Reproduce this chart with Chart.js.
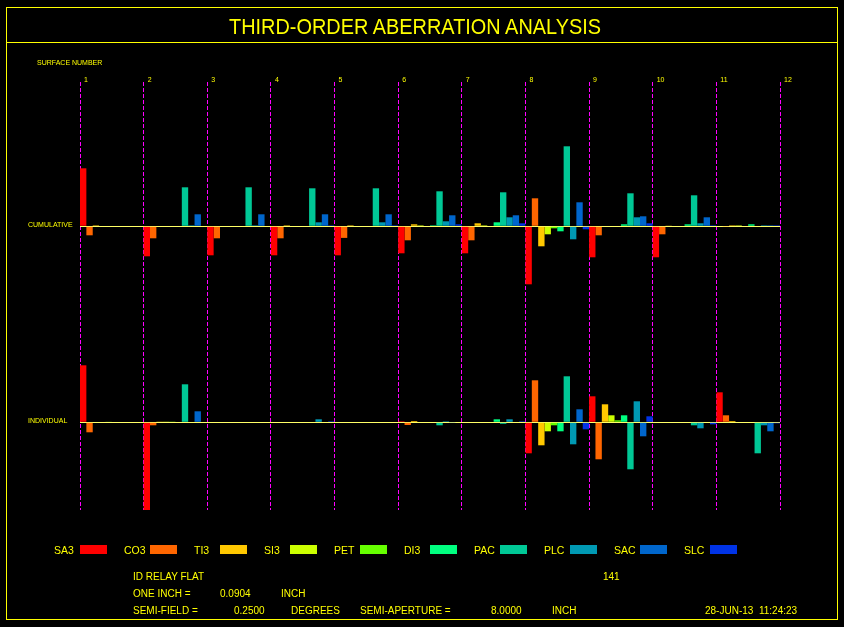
<!DOCTYPE html>
<html><head><meta charset="utf-8">
<script src="https://cdn.jsdelivr.net/npm/chart.js@4.4.0/dist/chart.umd.min.js"></script>
<style>
html,body{margin:0;padding:0;background:#000;}
body{width:844px;height:627px;position:relative;overflow:hidden;font-family:"Liberation Sans",Arial,sans-serif;color:#FFFF00;}
#c{position:absolute;left:0;top:0;}
.t{position:absolute;white-space:nowrap;}
#frame{position:absolute;left:6px;top:7px;width:830px;height:611px;border:1px solid #FFFF00;}
#sep{position:absolute;left:6px;top:42px;width:832px;height:1px;background:#FFFF00;}
#title{left:229px;top:16px;font-size:22px;line-height:22px;transform-origin:0 0;}
.s7{font-size:7px;line-height:7px;}
.f10{font-size:10px;line-height:10px;}
.lg{font-size:10.5px;line-height:10.5px;}
.sw{position:absolute;width:27px;height:9px;}
</style></head><body>
<canvas id="c" width="844" height="627"></canvas>
<div id="frame"></div><div id="sep"></div>
<div id="title" class="t">THIRD-ORDER ABERRATION ANALYSIS</div>
<div class="t s7" style="left:37px;top:59px;">SURFACE NUMBER</div>
<div class="t s7" style="left:28px;top:221px;">CUMULATIVE</div>
<div class="t s7" style="left:28px;top:417px;">INDIVIDUAL</div>
<div id="legend"></div>
<div class="t f10" style="left:133px;top:571.5px;">ID RELAY FLAT</div>
<div class="t f10" style="left:603px;top:571.5px;">141</div>
<div class="t f10" style="left:133px;top:588.5px;">ONE INCH =</div>
<div class="t f10" style="left:220px;top:588.5px;">0.0904</div>
<div class="t f10" style="left:281px;top:588.5px;">INCH</div>
<div class="t f10" style="left:133px;top:605.5px;">SEMI-FIELD =</div>
<div class="t f10" style="left:234px;top:605.5px;">0.2500</div>
<div class="t f10" style="left:291px;top:605.5px;">DEGREES</div>
<div class="t f10" style="left:360px;top:605.5px;">SEMI-APERTURE =</div>
<div class="t f10" style="left:491px;top:605.5px;">8.0000</div>
<div class="t f10" style="left:552px;top:605.5px;">INCH</div>
<div class="t f10" style="left:705px;top:606px;">28-JUN-13&nbsp;&nbsp;11:24:23</div>
<script>
// ---- data ----
const surfaces = ['1','2','3','4','5','6','7','8','9','10','11'];
const surfaceMarks = ['1','2','3','4','5','6','7','8','9','10','11','12'];
const aberrations = ['SA3','CO3','TI3','SI3','PET','DI3','PAC','PLC','SAC','SLC'];
const colors = ['#FF0000','#FF6600','#FFC800','#CCFF00','#66FF00','#00FF80','#00C896','#0099B3','#0066CC','#0033E6'];

// cumulative contributions per surface
const cumSA3 = [58, -30, -29, -29, -29, -27, -27, -58, -31, -31, -0.5];
const cumCO3 = [-9, -12, -12, -12, -11.6, -14, -14, 28, -9, -8, -0.7];
const cumTI3 = [1, 0, 0, 1, 1, 2, 3, -20, 0.5, 0.3, 1];
const cumSI3 = [0, 0, 0, 0, 0, 1, 1, -8, -0.5, 0, 1];
const cumPET = [0, 0, 0, 0, 0, 0, 0, -2, 0, 0, 0.5];
const cumDI3 = [0, 0, 0, 0, 0, 1, 4, -5, 2, 2, 2];
const cumPAC = [0, 39, 39, 38, 38, 35, 34, 80, 33, 31, 0];
const cumPLC = [0, 1, 1, 4, 4, 5, 9, -13, 9, 3, 1];
const cumSAC = [0, 12, 12, 12, 12, 11, 11, 24, 10, 9, 1];
const cumSLC = [0, 0, 0, 1, 1, 2, 3, -3, 3, 1, 1];

// individual contributions per surface
const indSA3 = [57, -88, 0, 0, 0, 1, 0, -31, 26, 0, 30];
const indCO3 = [-10, -3, -0.5, 0, 0, -2.7, 0, 42, -37, 0.5, 7];
const indTI3 = [0, 0.3, 0, 0, 0, 1.3, 0, -23, 18, 0, 1.3];
const indSI3 = [0, 0.3, 0, 0, 0, 0, 0, -9, 7, 0, 0];
const indPET = [0.4, 0.3, 0, 0, 0, 0, 0, -3, 2, 0, 0];
const indDI3 = [0, 0, 0, 0, 0, 0, 3, -9, 7, -0.5, 0];
const indPAC = [0, 38, 0, 0, 0, -3, -1.5, 46, -47, -3, -31];
const indPLC = [0, 0, 0, 3, 0, 1, 3, -22, 21, -6, -3];
const indSAC = [0, 11, 0, 0, 0, -0.7, -0.5, 13, -14, 0, -9];
const indSLC = [0, 0, 0, 1, 0, 0, 1, -7, 6, -2, -1];

const cumSeries = [cumSA3, cumCO3, cumTI3, cumSI3, cumPET, cumDI3, cumPAC, cumPLC, cumSAC, cumSLC];
const indSeries = [indSA3, indCO3, indTI3, indSI3, indPET, indDI3, indPAC, indPLC, indSAC, indSLC];

// ---- legend ----
const lg = document.getElementById('legend');
aberrations.forEach((name, i) => {
  const t = document.createElement('div');
  t.className = 't lg'; t.textContent = name;
  t.style.left = (54 + 70 * i) + 'px'; t.style.top = '545px';
  lg.appendChild(t);
  const s = document.createElement('div');
  s.className = 'sw'; s.style.background = colors[i];
  s.style.left = (80 + 70 * i) + 'px'; s.style.top = '545px';
  lg.appendChild(s);
});

// title width fit
const title = document.getElementById('title');
const tw = title.getBoundingClientRect().width;
title.style.transform = 'scaleX(' + (372 / tw) + ')';

// ---- chart ----
const datasets = [];
aberrations.forEach((name, i) => {
  datasets.push({label: name + ' cumulative', data: cumSeries[i], yAxisID: 'yc', stack: name,
    backgroundColor: colors[i], borderWidth: 0, inflateAmount: 0});
});
aberrations.forEach((name, i) => {
  datasets.push({label: name + ' individual', data: indSeries[i], yAxisID: 'yi', stack: name,
    backgroundColor: colors[i], borderWidth: 0, inflateAmount: 0});
});

const zeroGrid = {
  drawTicks: false,
  lineWidth: 1,
  color: (ctx) => (ctx.tick && ctx.tick.value === 0) ? '#FFFF66' : 'rgba(0,0,0,0)'
};

const surfaceNumbers = {
  id: 'surfaceNumbers',
  afterDraw(chart) {
    const xs = chart.scales.x;
    const step = xs.getPixelForValue(1) - xs.getPixelForValue(0);
    const ctx = chart.ctx;
    ctx.save();
    ctx.font = '7px "Liberation Sans", Arial, sans-serif';
    ctx.fillStyle = '#FFFF00';
    ctx.textBaseline = 'alphabetic';
    ctx.textAlign = 'left';
    surfaceMarks.forEach((lab, i) => {
      const x = xs.getPixelForValue(i) - step / 2;
      ctx.fillText(lab, x + 4, chart.chartArea.top);
    });
    ctx.restore();
  }
};

new Chart(document.getElementById('c'), {
  type: 'bar',
  data: {labels: surfaces, datasets},
  plugins: [surfaceNumbers],
  options: {
    responsive: false,
    animation: false,
    layout: {padding: {left: 80, right: 64, top: 82, bottom: 117}},
    plugins: {legend: {display: false}, tooltip: {enabled: false}, title: {display: false}},
    datasets: {bar: {categoryPercentage: 1, barPercentage: 1}},
    scales: {
      x: {
        offset: true,
        ticks: {display: false},
        grid: {offset: true, drawTicks: false, color: '#FF00FF', lineWidth: 1},
        border: {display: false, dash: [4, 2]}
      },
      yc: {
        type: 'linear', position: 'left', stack: 'panels', stackWeight: 242, weight: 1,
        stacked: false, min: -97.7, max: 144.3,
        afterBuildTicks: (s) => { s.ticks = [{value: 0}]; },
        ticks: {display: false}, grid: zeroGrid, border: {display: false}
      },
      yi: {
        type: 'linear', position: 'left', stack: 'panels', stackWeight: 186, weight: 0,
        stacked: false, min: -87.7, max: 98.3,
        afterBuildTicks: (s) => { s.ticks = [{value: 0}]; },
        ticks: {display: false}, grid: zeroGrid, border: {display: false}
      }
    }
  }
});
</script>
</body></html>
